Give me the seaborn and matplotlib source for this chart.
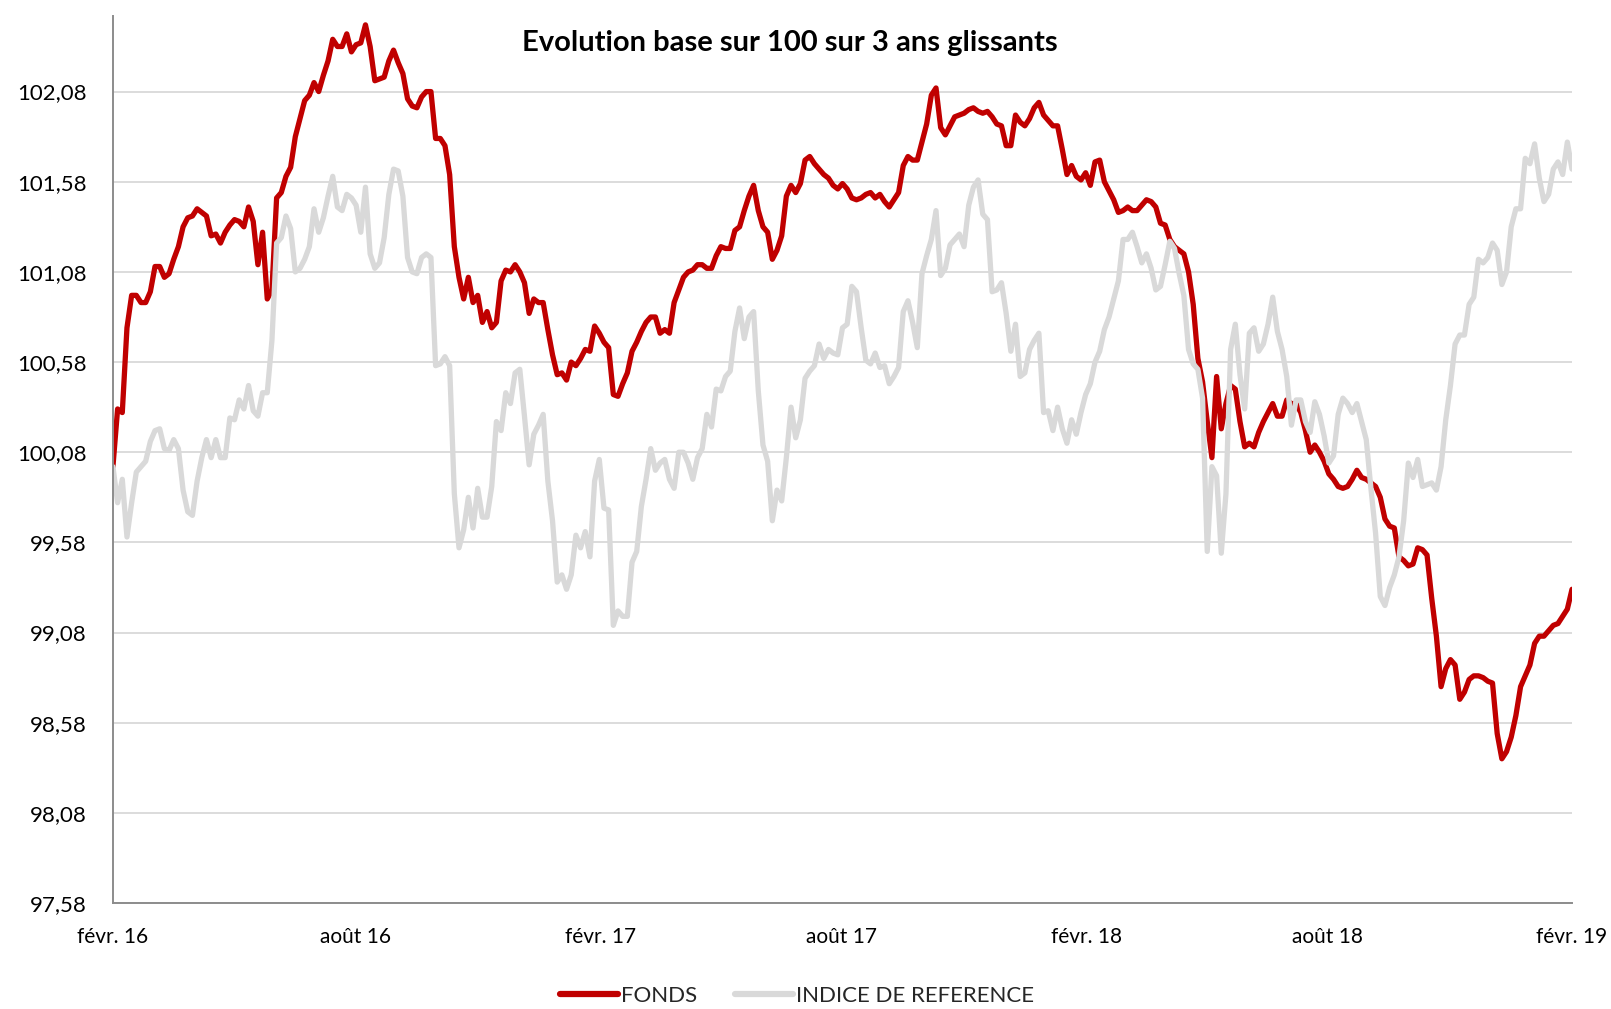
import numpy as np
import pandas as pd
import matplotlib
matplotlib.use("Agg")
import matplotlib.pyplot as plt
from matplotlib.lines import Line2D
import seaborn as sns

title = "Evolution base sur 100 sur 3 ans glissants"
series_names = ["FONDS", "INDICE DE REFERENCE"]
start_date = "2016-02-01"
end_date = "2019-02-01"

# FONDS: readings at weekly marks and at the half-week points between them
fonds_week = [
    100.00, 100.30, 100.95, 100.91, 100.97, 101.11, 101.07, 101.22, 101.38, 101.43,
    101.39, 101.29, 101.30, 101.37, 101.33, 101.36, 101.30, 100.98, 101.52, 101.66,
    101.93, 102.06, 102.08, 102.25, 102.33, 102.40, 102.34, 102.45, 102.14, 102.16,
    102.31, 102.18, 102.00, 102.05, 102.08, 101.82, 101.62, 101.05, 101.05, 100.95,
    100.86, 100.80, 101.09, 101.12, 101.02, 100.93, 100.91, 100.62, 100.52, 100.58,
    100.60, 100.64, 100.74, 100.66, 100.39, 100.52, 100.69, 100.80, 100.83, 100.76,
    100.91, 101.05, 101.09, 101.12, 101.10, 101.22, 101.21, 101.33, 101.50, 101.42,
    101.30, 101.20, 101.50, 101.52, 101.70, 101.68, 101.62, 101.56, 101.57, 101.49,
    101.49, 101.52, 101.51, 101.44, 101.52, 101.72, 101.70, 101.90, 102.10, 101.84,
    101.94, 101.96, 101.99, 101.96, 101.94, 101.89, 101.78, 101.91, 101.93, 102.02,
    101.92, 101.89, 101.62, 101.61, 101.63, 101.69, 101.58, 101.48, 101.42, 101.42,
    101.45, 101.47, 101.35, 101.26, 101.20, 101.08, 100.60, 100.25, 100.50, 100.35,
    100.43, 100.11, 100.11, 100.25, 100.35, 100.28, 100.35, 100.30, 100.08, 100.08,
    99.96, 99.89, 99.89, 99.98, 99.93, 99.89, 99.71, 99.66, 99.48, 99.46,
    99.54, 99.27, 98.78, 98.93, 98.71, 98.82, 98.84, 98.81, 98.52, 98.42,
    98.62, 98.84, 99.02, 99.06, 99.12, 99.17, 99.32,
]
fonds_mid = [
    100.32, 100.77, 100.95, 100.91, 101.11, 101.05, 101.15, 101.33, 101.39, 101.41,
    101.28, 101.24, 101.34, 101.36, 101.44, 101.12, 100.93, 101.49, 101.61, 101.83,
    102.03, 102.13, 102.17, 102.37, 102.33, 102.30, 102.35, 102.33, 102.15, 102.25,
    102.24, 102.04, 101.99, 102.08, 101.82, 101.78, 101.22, 100.93, 100.91, 100.80,
    100.77, 101.03, 101.08, 101.08, 100.85, 100.91, 100.76, 100.51, 100.48, 100.56,
    100.65, 100.78, 100.69, 100.40, 100.46, 100.64, 100.75, 100.83, 100.74, 100.74,
    100.98, 101.08, 101.12, 101.10, 101.17, 101.21, 101.31, 101.42, 101.56, 101.33,
    101.15, 101.28, 101.56, 101.57, 101.72, 101.65, 101.60, 101.54, 101.54, 101.48,
    101.51, 101.49, 101.47, 101.48, 101.67, 101.70, 101.80, 102.06, 101.88, 101.89,
    101.95, 101.98, 101.97, 101.97, 101.90, 101.78, 101.95, 101.89, 101.99, 101.95,
    101.89, 101.76, 101.67, 101.59, 101.56, 101.70, 101.53, 101.41, 101.44, 101.42,
    101.48, 101.44, 101.34, 101.22, 101.18, 100.90, 100.47, 100.05, 100.21, 100.45,
    100.25, 100.13, 100.19, 100.30, 100.28, 100.37, 100.35, 100.20, 100.12, 100.03,
    99.93, 99.88, 99.93, 99.94, 99.91, 99.83, 99.67, 99.50, 99.45, 99.55,
    99.51, 99.06, 98.88, 98.90, 98.75, 98.84, 98.83, 98.80, 98.38, 98.50,
    98.78, 98.90, 99.06, 99.09, 99.13, 99.21,
]

# INDICE DE REFERENCE: same reading points
indice_week = [
    100.00, 99.93, 99.80, 100.00, 100.14, 100.21, 100.09, 100.10, 99.75, 99.92,
    100.15, 100.15, 100.05, 100.26, 100.32, 100.31, 100.41, 100.70, 101.27, 101.32,
    101.10, 101.22, 101.30, 101.50, 101.44, 101.51, 101.45, 101.55, 101.10, 101.27,
    101.65, 101.50, 101.08, 101.16, 101.16, 100.57, 100.56, 99.55, 99.83, 99.88,
    99.72, 100.25, 100.41, 100.52, 100.28, 100.18, 100.29, 99.70, 99.40, 99.40,
    99.55, 99.50, 100.04, 99.76, 99.20, 99.17, 99.53, 99.93, 99.98, 100.04,
    99.88, 100.08, 99.93, 100.10, 100.22, 100.42, 100.53, 100.88, 100.83, 100.42,
    100.03, 99.87, 100.05, 100.16, 100.49, 100.56, 100.60, 100.63, 100.77, 101.00,
    100.77, 100.57, 100.55, 100.46, 100.55, 100.92, 100.66, 101.17, 101.42, 101.10,
    101.26, 101.22, 101.55, 101.40, 100.97, 101.02, 100.64, 100.50, 100.65, 100.74,
    100.31, 100.33, 100.13, 100.18, 100.40, 100.58, 100.76, 100.93, 101.26, 101.30,
    101.13, 101.10, 101.00, 101.25, 101.07, 100.65, 100.54, 99.53, 99.95, 99.85,
    100.79, 100.32, 100.77, 100.68, 100.94, 100.65, 100.23, 100.37, 100.19, 100.29,
    100.02, 100.29, 100.35, 100.35, 100.15, 99.63, 99.23, 99.40, 99.70, 99.94,
    99.89, 99.91, 100.00, 100.45, 100.73, 100.90, 101.15, 101.16, 101.20, 101.08,
    101.43, 101.71, 101.79, 101.47, 101.65, 101.62, 101.65,
]
indice_mid = [
    99.80, 99.61, 99.97, 100.03, 100.20, 100.10, 100.15, 99.87, 99.73, 100.05,
    100.05, 100.05, 100.27, 100.37, 100.45, 100.28, 100.41, 101.24, 101.39, 101.08,
    101.15, 101.43, 101.38, 101.61, 101.42, 101.49, 101.30, 101.18, 101.13, 101.51,
    101.64, 101.16, 101.07, 101.18, 100.56, 100.61, 99.85, 99.65, 99.66, 99.72,
    99.89, 100.20, 100.35, 100.54, 100.01, 100.23, 99.92, 99.36, 99.32, 99.62,
    99.64, 99.92, 99.77, 99.12, 99.17, 99.47, 99.78, 100.10, 100.02, 99.93,
    100.08, 100.02, 100.05, 100.29, 100.43, 100.50, 100.75, 100.71, 100.86, 100.12,
    99.70, 99.81, 100.33, 100.26, 100.53, 100.68, 100.65, 100.62, 100.79, 100.97,
    100.59, 100.63, 100.56, 100.50, 100.86, 100.80, 101.07, 101.26, 101.06, 101.23,
    101.29, 101.45, 101.59, 101.37, 100.98, 100.85, 100.79, 100.52, 100.70, 100.30,
    100.20, 100.21, 100.26, 100.30, 100.46, 100.64, 100.83, 101.03, 101.26, 101.22,
    101.18, 100.98, 101.12, 101.21, 100.95, 100.57, 100.38, 100.00, 99.52, 100.65,
    100.51, 100.74, 100.64, 100.79, 100.75, 100.50, 100.37, 100.25, 100.36, 100.17,
    100.06, 100.38, 100.30, 100.25, 99.88, 99.28, 99.33, 99.50, 100.02, 100.04,
    99.90, 99.87, 100.26, 100.68, 100.73, 100.94, 101.13, 101.24, 101.01, 101.33,
    101.43, 101.68, 101.60, 101.51, 101.69, 101.80,
]

tick_dates = ["2016-02-01", "2016-08-01", "2017-02-01", "2017-08-01",
              "2018-02-01", "2018-08-01", "2019-02-01"]
tick_labels = ["févr. 16", "août 16", "févr. 17", "août 17",
               "févr. 18", "août 18", "févr. 19"]
y_ticks = [97.58, 98.08, 98.58, 99.08, 99.58, 100.08, 100.58, 101.08, 101.58, 102.08]
y_tick_labels = ["97,58", "98,08", "98,58", "99,08", "99,58",
                 "100,08", "100,58", "101,08", "101,58", "102,08"]

RED = "#c00000"
GREY = "#d9d9d9"


def interleave(week, mid):
    out = np.empty(len(week) + len(mid))
    out[0::2] = week
    out[1::2] = mid
    return out


fonds = interleave(fonds_week, fonds_mid)
indice = interleave(indice_week, indice_mid)

df = pd.concat([
    pd.DataFrame({"date": pd.date_range(start_date, end_date, periods=len(fonds)),
                  "value": fonds, "serie": series_names[0]}),
    pd.DataFrame({"date": pd.date_range(start_date, end_date, periods=len(indice)),
                  "value": indice, "serie": series_names[1]}),
], ignore_index=True)

sns.set_theme(style="white")
plt.rcParams["font.family"] = ["Lato", "DejaVu Sans"]

fig = plt.figure(figsize=(16.11, 10.09), dpi=100)
ax = fig.add_axes([0.0701, 0.105, 0.9057, 0.8793])

sns.lineplot(data=df, x="date", y="value", hue="serie", hue_order=series_names,
             palette=[RED, GREY], linewidth=3.8, ax=ax, legend=False)

ax.set_xlim(pd.Timestamp(start_date), pd.Timestamp(end_date))
ax.set_ylim(97.58, 102.50)
ax.set_xticks([pd.Timestamp(d) for d in tick_dates])
ax.set_xticklabels(tick_labels, fontsize=15)
ax.set_yticks(y_ticks)
ax.set_yticklabels(y_tick_labels, fontsize=16)
ax.set_xlabel("")
ax.set_ylabel("")

ax.grid(axis="y", color="#d9d9d9", linewidth=1.3)
ax.grid(axis="x", visible=False)
ax.set_axisbelow(True)

for s in ["top", "right"]:
    ax.spines[s].set_visible(False)
for s in ["left", "bottom"]:
    ax.spines[s].set_color("#8c8c8c")
    ax.spines[s].set_linewidth(1.4)

ax.tick_params(axis="x", which="major", direction="out", length=8, width=1.2,
               color="#8c8c8c", pad=9, labelcolor="black")
ax.tick_params(axis="y", which="major", direction="out", length=5, width=1.2,
               color="#8c8c8c", pad=14, labelcolor="black")

fig.text(0.4905, 0.957, title, ha="center", va="center", fontsize=21,
         fontweight="bold", color="black")

handles = [Line2D([0], [0], color=RED, linewidth=4.5, solid_capstyle="round"),
           Line2D([0], [0], color=GREY, linewidth=4.5, solid_capstyle="round")]
fig.legend(handles, series_names, loc="center", bbox_to_anchor=(0.4947, 0.013),
           ncol=2, frameon=False, fontsize=16, handlelength=2.6,
           handletextpad=0.15, columnspacing=1.7)

fig.savefig("out.png", dpi=100, facecolor="white")
